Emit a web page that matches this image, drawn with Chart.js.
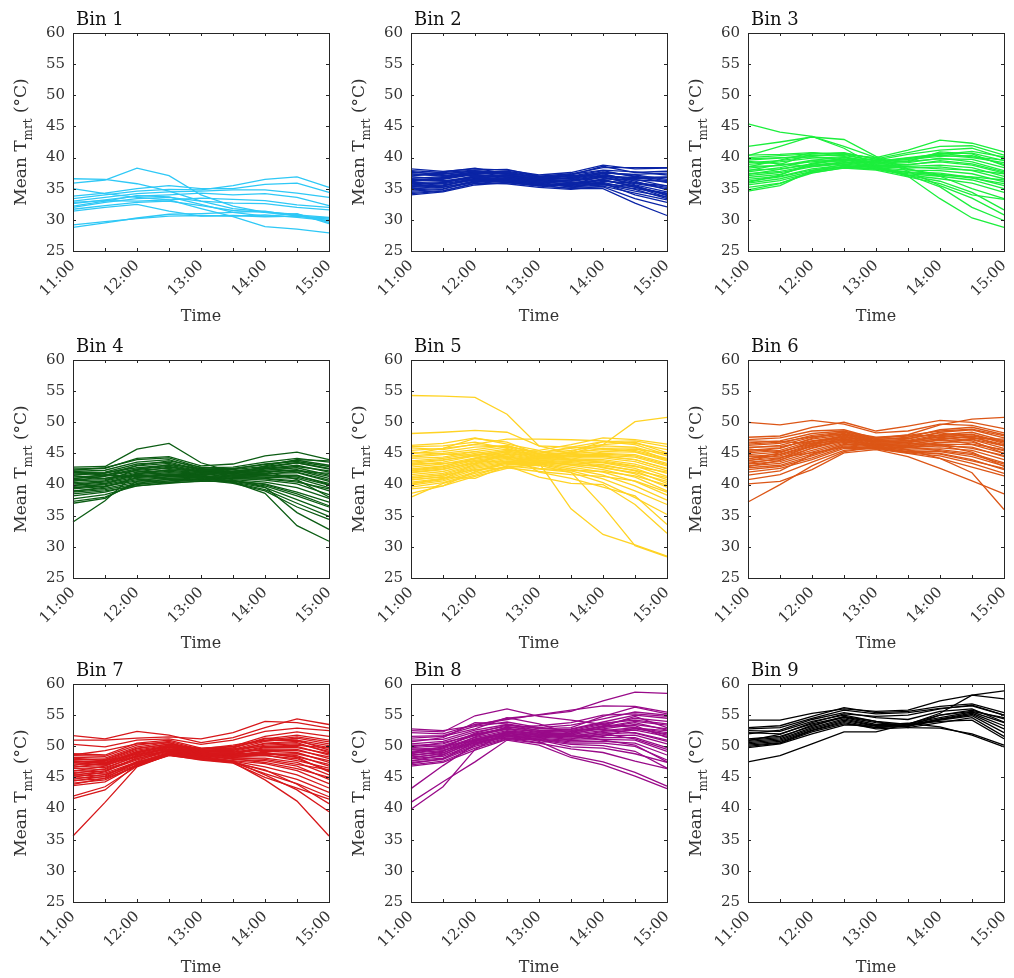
<!DOCTYPE html>
<html>
<head>
<meta charset="utf-8">
<title>Mean Tmrt by bin</title>
<script src="https://cdn.jsdelivr.net/npm/chart.js@4.4.1/dist/chart.umd.min.js"></script>
<style>
  body { margin: 0; background: #fff; }
  #wrap { position: relative; width: 1014px; height: 978px; overflow: hidden; }
  .panel { position: absolute; width: 338px; height: 326px; }
</style>
</head>
<body>
<div id="wrap"></div>
<script>
// time axis (every 30 min, labels only on the hour)
const timeLabels = ['11:00', '11:30', '12:00', '12:30', '13:00', '13:30', '14:00', '14:30', '15:00'];
const yTicks = [25, 30, 35, 40, 45, 50, 55, 60];
const binTitles = ['Bin 1', 'Bin 2', 'Bin 3', 'Bin 4', 'Bin 5', 'Bin 6', 'Bin 7', 'Bin 8', 'Bin 9'];
const binColors = ['#2ec8f6', '#0a24a6', '#1cee3c', '#0b5c13', '#ffd324', '#dc5616', '#d7171a', '#990a89', '#000000'];

// mean Tmrt per site, one row per line
const bin1 = [
  [36.6, 36.5, 35.8, 34.6, 33.0, 31.8, 31.3, 30.8, 30.4],
  [35.9, 36.4, 38.3, 37.1, 34.0, 32.2, 31.2, 30.7, 29.8],
  [35.0, 34.2, 33.6, 33.2, 31.8, 30.5, 28.9, 28.5, 27.9],
  [33.4, 34.0, 34.6, 34.9, 34.8, 35.5, 36.5, 36.9, 35.2],
  [33.8, 34.3, 35.0, 35.5, 35.0, 35.0, 35.7, 35.9, 34.4],
  [33.0, 33.6, 34.2, 34.5, 34.6, 34.8, 34.8, 34.3, 33.6],
  [32.6, 33.2, 33.8, 34.0, 34.3, 34.0, 34.2, 33.6, 32.3],
  [32.0, 32.8, 33.4, 33.6, 33.0, 32.7, 32.6, 32.0, 31.6],
  [31.7, 32.3, 32.8, 33.0, 32.3, 31.5, 31.2, 30.9, 29.6],
  [31.4, 32.0, 32.5, 31.4, 30.6, 30.7, 30.5, 30.6, 30.1],
  [32.2, 33.0, 33.9, 33.7, 32.5, 31.2, 30.6, 31.0, 29.4],
  [29.2, 29.7, 30.2, 30.6, 30.7, 30.6, 30.8, 30.4, 29.9],
  [28.8, 29.5, 30.3, 30.9, 31.0, 31.2, 31.4, 30.6, 30.3],
  [32.8, 33.1, 33.0, 33.2, 33.5, 33.3, 33.1, 32.4, 32.0]
];
const bin2 = [
  [38.2, 37.8, 38.2, 38.0, 37.2, 37.6, 38.8, 38.2, 38.3],
  [37.9, 37.6, 38.0, 38.1, 37.0, 37.4, 38.4, 38.4, 38.4],
  [37.6, 37.4, 37.8, 37.6, 36.8, 37.3, 38.0, 37.7, 37.2],
  [37.4, 37.0, 37.6, 37.8, 37.0, 36.9, 37.6, 37.2, 36.5],
  [37.2, 37.3, 37.9, 37.3, 36.6, 37.0, 37.9, 36.9, 36.0],
  [36.9, 36.6, 37.4, 37.5, 36.8, 36.5, 37.2, 36.5, 35.4],
  [36.7, 36.9, 37.2, 37.0, 36.4, 36.7, 37.4, 36.2, 34.8],
  [36.5, 36.2, 37.0, 37.2, 36.6, 36.2, 36.8, 35.8, 35.0],
  [36.3, 36.5, 37.3, 36.8, 36.2, 36.4, 36.9, 35.6, 34.5],
  [36.0, 36.1, 36.8, 37.0, 36.5, 36.0, 36.3, 35.5, 33.9],
  [35.8, 35.8, 36.6, 36.6, 36.0, 35.8, 36.0, 34.9, 33.4],
  [35.6, 36.0, 36.9, 36.9, 36.3, 35.6, 35.7, 34.6, 33.7],
  [35.4, 35.6, 36.4, 36.4, 35.8, 35.4, 35.9, 34.0, 32.8],
  [35.2, 35.4, 36.7, 36.7, 36.1, 35.2, 35.3, 33.4, 32.1],
  [35.0, 35.2, 36.2, 36.2, 35.6, 35.0, 35.0, 32.7, 30.7],
  [34.8, 35.0, 36.0, 36.5, 35.9, 35.3, 35.6, 35.0, 34.2],
  [34.6, 34.9, 36.3, 36.0, 35.4, 35.1, 36.2, 35.9, 35.5],
  [34.4, 34.7, 35.8, 36.3, 35.7, 35.5, 36.6, 36.4, 36.2],
  [34.2, 34.6, 35.9, 35.8, 35.2, 34.9, 35.4, 34.3, 33.2],
  [34.0, 34.5, 35.6, 36.0, 35.5, 35.6, 36.4, 35.4, 34.0],
  [37.0, 37.7, 38.3, 37.4, 36.9, 37.1, 37.0, 36.6, 36.8],
  [36.1, 36.8, 37.6, 37.7, 36.7, 36.6, 37.5, 37.3, 37.5],
  [35.3, 35.9, 37.1, 36.3, 35.9, 36.3, 37.1, 36.0, 35.2],
  [36.6, 36.3, 36.5, 36.1, 35.5, 35.9, 36.5, 35.2, 34.3],
  [35.5, 35.3, 36.1, 37.1, 36.4, 36.8, 37.7, 37.0, 36.3],
  [37.8, 37.1, 37.7, 36.9, 36.3, 36.0, 35.8, 35.3, 33.6],
  [34.9, 35.5, 36.5, 36.4, 35.6, 35.7, 37.0, 36.8, 36.9],
  [36.4, 36.7, 37.5, 37.3, 36.5, 37.2, 38.6, 37.6, 37.8]
];
const bin3 = [
  [45.4, 44.1, 43.4, 41.8, 40.0, 37.8, 35.5, 33.5, 30.8],
  [41.8, 42.5, 43.3, 42.9, 40.2, 38.2, 37.0, 35.0, 33.4],
  [40.3, 41.8, 43.4, 41.5, 38.6, 37.2, 35.3, 32.0, 29.9],
  [40.4, 40.5, 40.8, 40.5, 40.0, 41.2, 42.8, 42.3, 40.9],
  [40.0, 40.3, 40.6, 40.7, 39.8, 40.8, 41.8, 41.9, 40.4],
  [39.6, 39.9, 40.4, 40.3, 39.6, 40.5, 41.2, 41.5, 39.9],
  [39.2, 39.5, 40.2, 40.5, 39.4, 40.0, 40.6, 40.7, 39.5],
  [38.9, 39.3, 39.9, 40.1, 39.2, 39.7, 40.2, 40.3, 38.9],
  [38.6, 38.7, 39.6, 40.0, 39.0, 39.4, 39.8, 39.7, 38.4],
  [38.3, 38.8, 39.3, 39.8, 38.9, 39.2, 39.9, 39.3, 37.9],
  [38.0, 38.2, 39.0, 39.6, 38.8, 38.9, 39.3, 38.8, 37.5],
  [37.7, 38.4, 39.5, 39.4, 38.6, 38.6, 38.8, 38.4, 37.0],
  [37.4, 37.8, 38.7, 39.2, 38.5, 38.3, 38.5, 37.9, 36.6],
  [37.1, 37.6, 38.5, 39.0, 38.4, 38.0, 37.9, 37.4, 36.1],
  [36.8, 37.3, 38.8, 39.3, 38.7, 38.8, 39.5, 39.0, 37.7],
  [36.5, 37.0, 38.2, 38.8, 38.3, 37.7, 37.5, 36.8, 35.5],
  [36.2, 36.9, 38.0, 38.6, 38.2, 37.4, 37.0, 36.4, 35.0],
  [35.9, 36.6, 37.8, 38.5, 38.1, 37.2, 36.6, 35.9, 34.4],
  [35.6, 36.3, 37.6, 38.3, 38.0, 36.9, 35.8, 34.0, 33.3],
  [35.2, 35.9, 37.5, 38.4, 38.2, 37.6, 37.2, 36.9, 36.4],
  [34.8, 35.8, 37.7, 38.6, 38.5, 38.5, 38.2, 38.0, 37.4],
  [34.6, 35.5, 37.9, 38.9, 38.6, 37.0, 33.4, 30.3, 28.8],
  [39.8, 40.0, 40.1, 39.6, 39.1, 39.5, 40.5, 41.0, 40.1],
  [37.9, 38.9, 40.6, 40.8, 39.7, 39.3, 40.9, 40.6, 38.7],
  [36.0, 37.2, 39.1, 39.7, 39.3, 39.9, 40.4, 40.0, 39.2],
  [39.4, 39.0, 38.6, 39.1, 39.3, 38.1, 37.3, 36.7, 35.8],
  [38.5, 39.6, 40.8, 40.2, 38.5, 37.1, 36.2, 34.4, 31.6],
  [37.3, 38.1, 38.9, 40.0, 39.5, 39.8, 40.7, 40.1, 39.6]
];
const bin4 = [
  [42.8, 42.9, 45.7, 46.6, 43.5, 42.0, 42.7, 43.5, 42.5],
  [42.5, 42.6, 44.2, 44.5, 43.0, 43.3, 44.6, 45.2, 44.0],
  [42.3, 42.7, 44.0, 44.3, 42.7, 42.8, 43.6, 44.2, 43.6],
  [42.1, 42.3, 43.6, 44.0, 42.5, 42.6, 43.2, 43.9, 43.1],
  [41.9, 42.0, 43.3, 43.6, 42.4, 42.4, 42.9, 43.5, 42.6],
  [41.7, 41.8, 43.0, 43.4, 42.3, 42.2, 42.6, 43.1, 42.0],
  [41.5, 41.9, 42.7, 43.1, 42.2, 42.0, 42.3, 42.7, 41.5],
  [41.2, 41.5, 42.5, 42.9, 42.1, 41.9, 42.0, 42.3, 41.0],
  [41.0, 41.3, 42.3, 42.6, 42.0, 41.7, 41.8, 41.9, 40.5],
  [40.8, 41.0, 42.0, 42.3, 41.9, 41.5, 41.5, 41.5, 40.0],
  [40.6, 40.8, 41.8, 42.1, 41.8, 41.3, 41.2, 41.0, 39.5],
  [40.3, 40.6, 41.6, 41.9, 41.7, 41.2, 41.0, 40.6, 39.0],
  [40.1, 40.4, 41.4, 41.7, 41.5, 41.0, 40.7, 40.1, 38.4],
  [39.9, 40.2, 41.2, 41.4, 41.4, 40.8, 40.4, 39.5, 37.8],
  [39.7, 40.0, 41.0, 41.2, 41.3, 40.6, 40.1, 38.8, 37.2],
  [39.5, 39.8, 40.8, 41.0, 41.2, 40.5, 39.8, 38.2, 36.4],
  [39.3, 39.7, 40.6, 40.8, 41.1, 40.4, 39.5, 37.6, 35.6],
  [39.0, 39.4, 40.4, 40.6, 41.0, 40.3, 39.2, 37.0, 34.9],
  [38.8, 39.2, 40.1, 40.4, 40.8, 40.2, 39.0, 36.4, 34.4],
  [38.5, 39.0, 39.8, 40.2, 40.6, 40.4, 38.6, 33.4, 30.9],
  [38.2, 38.8, 40.0, 40.6, 40.8, 40.7, 39.6, 35.5, 32.8],
  [37.7, 38.4, 39.8, 40.3, 40.5, 40.6, 40.0, 38.5, 36.6],
  [37.3, 38.0, 40.2, 40.9, 40.7, 41.1, 41.4, 41.2, 39.9],
  [37.0, 37.8, 40.5, 41.3, 41.0, 41.4, 42.1, 42.4, 41.3],
  [34.0, 37.4, 42.0, 42.8, 42.0, 41.8, 42.5, 42.9, 42.2],
  [41.4, 41.0, 41.5, 40.9, 40.7, 41.6, 43.0, 44.0, 43.8],
  [40.5, 41.4, 43.1, 43.8, 42.8, 42.5, 43.3, 43.7, 42.9],
  [39.4, 40.1, 41.7, 42.4, 42.2, 41.7, 41.6, 42.2, 41.8],
  [38.9, 39.6, 41.1, 41.6, 41.6, 42.1, 42.7, 42.0, 40.7],
  [40.9, 41.6, 42.2, 41.3, 41.2, 40.9, 40.9, 40.4, 39.3],
  [42.0, 41.5, 41.3, 41.5, 41.4, 41.0, 41.1, 41.4, 40.2],
  [39.8, 40.6, 42.4, 43.2, 42.6, 41.9, 42.1, 40.8, 38.0]
];
const bin5 = [
  [54.3, 54.2, 54.0, 51.3, 46.2, 45.0, 44.6, 44.0, 42.5],
  [48.2, 48.4, 48.7, 48.4, 46.2, 46.0, 45.8, 45.3, 44.0],
  [46.3, 46.6, 47.5, 46.5, 45.5, 46.4, 47.5, 47.2, 46.5],
  [45.9, 45.6, 46.5, 47.3, 47.3, 47.2, 47.0, 46.6, 45.6],
  [45.5, 45.8, 46.4, 46.1, 45.2, 45.8, 46.4, 46.8, 45.1],
  [45.0, 45.3, 46.0, 46.2, 45.0, 45.5, 46.2, 46.0, 44.6],
  [44.6, 45.0, 45.6, 46.3, 44.8, 45.2, 45.6, 45.5, 44.2],
  [44.2, 44.4, 45.3, 46.0, 44.6, 45.0, 45.3, 45.2, 43.8],
  [43.8, 44.2, 45.0, 45.7, 44.5, 44.8, 45.0, 44.8, 43.4],
  [43.4, 43.9, 44.8, 45.4, 44.4, 44.6, 44.7, 44.4, 43.0],
  [43.1, 43.6, 44.6, 45.2, 44.3, 44.5, 44.5, 44.0, 42.6],
  [42.8, 43.3, 44.3, 45.0, 44.2, 44.3, 44.3, 43.7, 42.2],
  [42.5, 43.0, 44.1, 44.8, 44.1, 44.1, 44.0, 43.3, 41.8],
  [42.2, 42.7, 43.9, 44.6, 44.0, 43.9, 43.8, 43.0, 41.3],
  [41.9, 42.4, 43.7, 44.4, 43.9, 43.7, 43.5, 42.6, 40.8],
  [41.6, 42.1, 43.4, 44.2, 43.8, 43.5, 43.2, 42.2, 40.2],
  [41.3, 41.8, 43.2, 44.0, 43.7, 43.3, 42.8, 41.7, 39.6],
  [41.0, 41.6, 43.0, 43.8, 43.6, 43.1, 42.4, 41.2, 39.0],
  [40.7, 41.3, 42.8, 43.6, 43.5, 42.8, 42.0, 40.5, 38.3],
  [40.4, 41.0, 42.6, 43.4, 43.4, 42.5, 41.5, 39.8, 37.5],
  [40.1, 40.8, 42.3, 43.2, 43.3, 42.2, 40.9, 39.0, 36.8],
  [39.6, 40.3, 41.8, 42.9, 43.1, 41.9, 40.3, 37.9, 35.2],
  [39.3, 39.8, 41.3, 42.6, 43.5, 36.1, 32.0, 30.3, 28.5],
  [38.0, 40.2, 41.5, 43.0, 42.5, 42.0, 36.5, 30.2, 28.4],
  [40.8, 41.2, 41.0, 43.0, 41.2, 40.2, 40.0, 36.8, 32.2],
  [42.0, 42.5, 43.5, 45.0, 42.0, 41.0, 39.6, 38.2, 33.6],
  [43.6, 44.0, 44.6, 44.2, 43.0, 45.0, 46.4, 50.1, 50.8],
  [44.9, 45.8, 47.4, 46.8, 44.8, 44.0, 45.3, 45.7, 45.0],
  [46.1, 46.2, 46.8, 45.8, 44.4, 45.3, 46.9, 47.0, 46.1],
  [42.3, 42.9, 44.2, 45.3, 45.0, 46.0, 46.9, 46.4, 44.8],
  [41.1, 41.5, 42.4, 42.7, 42.1, 41.6, 41.3, 40.6, 38.8],
  [43.3, 43.4, 43.8, 43.6, 42.6, 42.3, 42.1, 41.4, 39.9],
  [39.9, 40.6, 42.0, 43.5, 44.6, 45.1, 45.8, 45.9, 44.0],
  [44.4, 44.8, 45.3, 44.5, 43.6, 43.2, 43.0, 42.3, 41.1],
  [40.2, 40.9, 43.3, 44.9, 44.9, 44.6, 44.9, 44.6, 43.2],
  [45.2, 44.9, 44.7, 45.5, 45.4, 44.0, 42.7, 41.9, 40.5],
  [38.6, 39.8, 42.1, 43.7, 44.2, 44.0, 43.6, 42.9, 42.0]
];
const bin6 = [
  [50.0, 49.6, 50.3, 49.7, 48.3, 48.6, 49.7, 49.5, 48.3],
  [47.6, 47.8, 49.2, 50.0, 48.6, 49.4, 50.3, 50.0, 49.0],
  [47.2, 47.5, 48.6, 48.8, 47.4, 48.0, 49.6, 50.5, 50.8],
  [46.7, 47.0, 48.2, 48.6, 47.2, 47.6, 48.8, 49.2, 48.0],
  [46.3, 46.6, 47.9, 48.4, 47.0, 47.3, 48.4, 48.8, 47.5],
  [45.9, 46.3, 47.6, 48.2, 46.9, 47.1, 48.0, 48.4, 47.0],
  [45.5, 45.9, 47.3, 48.0, 46.8, 46.9, 47.7, 48.0, 46.6],
  [45.1, 45.5, 47.0, 47.8, 46.7, 46.7, 47.4, 47.6, 46.2],
  [44.8, 45.2, 46.7, 47.6, 46.6, 46.5, 47.1, 47.2, 45.8],
  [44.5, 44.9, 46.4, 47.4, 46.5, 46.3, 46.8, 46.8, 45.4],
  [44.2, 44.6, 46.1, 47.2, 46.4, 46.1, 46.5, 46.4, 45.0],
  [43.9, 44.3, 45.8, 47.0, 46.3, 45.9, 46.2, 46.0, 44.5],
  [43.6, 44.0, 45.5, 46.8, 46.2, 45.7, 45.9, 45.5, 44.0],
  [43.3, 43.7, 45.2, 46.6, 46.1, 45.5, 45.6, 45.0, 43.5],
  [43.0, 43.4, 44.9, 46.4, 46.0, 45.3, 45.3, 44.5, 43.0],
  [42.7, 43.1, 44.6, 46.2, 45.9, 45.2, 45.0, 44.0, 42.4],
  [42.4, 42.9, 44.3, 46.0, 45.8, 45.1, 44.6, 43.4, 41.8],
  [42.0, 42.6, 44.0, 45.8, 45.7, 45.0, 44.2, 42.8, 41.4],
  [40.8, 41.6, 43.6, 45.5, 45.9, 45.3, 44.9, 43.8, 42.6],
  [40.1, 40.5, 42.4, 45.1, 45.6, 44.5, 42.6, 40.6, 38.5],
  [37.2, 40.0, 43.0, 45.3, 46.0, 45.6, 44.2, 41.9, 36.0],
  [41.5, 42.2, 44.8, 46.4, 46.5, 46.2, 46.7, 47.3, 46.2],
  [46.0, 46.1, 47.0, 47.3, 46.3, 46.4, 47.2, 47.8, 46.9],
  [45.3, 45.8, 47.4, 48.5, 47.6, 47.9, 48.6, 48.9, 47.8],
  [44.1, 45.1, 46.9, 47.7, 46.9, 47.0, 47.6, 47.0, 45.0],
  [43.4, 44.2, 46.3, 47.5, 47.1, 46.6, 46.4, 45.8, 44.7],
  [47.0, 46.9, 46.6, 47.1, 46.4, 46.0, 45.4, 44.8, 43.3],
  [42.9, 43.9, 45.9, 47.3, 46.8, 46.8, 47.3, 46.5, 45.6],
  [45.7, 45.3, 46.5, 47.9, 47.3, 47.4, 48.3, 47.6, 46.4],
  [44.6, 44.4, 45.1, 46.0, 45.8, 46.0, 46.3, 45.2, 42.9],
  [46.5, 46.8, 47.7, 48.1, 47.5, 47.8, 47.9, 47.4, 47.3],
  [43.8, 44.8, 46.2, 46.9, 46.1, 46.8, 47.9, 48.1, 46.8]
];
const bin7 = [
  [51.7, 51.2, 52.4, 51.8, 50.6, 51.4, 53.0, 54.4, 53.5],
  [51.0, 51.0, 51.3, 51.5, 51.2, 52.2, 54.0, 53.8, 52.9],
  [50.3, 49.9, 51.0, 51.2, 50.3, 51.0, 52.4, 52.9, 52.5],
  [48.8, 48.6, 50.5, 51.0, 49.7, 50.0, 51.6, 52.3, 51.6],
  [48.5, 48.4, 50.2, 50.8, 49.5, 49.7, 51.2, 51.8, 51.0],
  [48.2, 48.1, 49.9, 50.6, 49.4, 49.5, 50.8, 51.3, 50.4],
  [47.9, 47.8, 49.6, 50.4, 49.3, 49.3, 50.5, 50.8, 49.8],
  [47.6, 47.6, 49.4, 50.2, 49.2, 49.2, 50.2, 50.4, 49.2],
  [47.3, 47.4, 49.1, 50.0, 49.1, 49.0, 49.9, 50.0, 48.6],
  [47.0, 47.1, 48.8, 49.8, 49.0, 48.8, 49.6, 49.5, 48.0],
  [46.7, 46.9, 48.6, 49.6, 48.9, 48.6, 49.2, 49.0, 47.4],
  [46.4, 46.6, 48.3, 49.4, 48.8, 48.5, 48.9, 48.5, 46.8],
  [46.1, 46.3, 48.0, 49.3, 48.7, 48.3, 48.5, 48.0, 46.1],
  [45.8, 46.0, 47.8, 49.1, 48.6, 48.1, 48.1, 47.4, 45.4],
  [45.5, 45.7, 47.5, 48.9, 48.5, 47.9, 47.7, 46.8, 44.7],
  [45.2, 45.4, 47.2, 48.8, 48.3, 47.7, 47.2, 46.1, 44.0],
  [44.9, 45.1, 47.0, 48.7, 48.2, 47.6, 46.7, 45.4, 43.3],
  [44.5, 44.8, 46.8, 48.6, 48.0, 47.5, 46.1, 44.7, 42.6],
  [44.1, 44.6, 46.9, 48.5, 47.9, 47.4, 45.6, 44.0, 41.9],
  [43.7, 44.3, 47.0, 48.6, 47.8, 47.3, 45.0, 43.3, 41.5],
  [42.0, 43.5, 46.8, 48.7, 48.1, 47.4, 46.2, 43.9, 40.8],
  [41.6, 43.0, 47.1, 48.9, 48.4, 47.6, 45.4, 43.0, 39.5],
  [35.6, 41.0, 46.7, 48.6, 48.2, 47.4, 44.6, 41.2, 35.6],
  [48.6, 49.3, 50.4, 50.6, 49.0, 49.8, 51.3, 51.0, 49.4],
  [46.9, 47.9, 49.7, 50.3, 49.6, 50.2, 51.0, 51.5, 50.7],
  [46.0, 46.8, 48.9, 50.1, 49.7, 49.6, 50.0, 50.2, 49.7],
  [45.0, 45.9, 48.2, 49.9, 49.6, 49.9, 50.9, 51.0, 50.1],
  [44.4, 45.2, 47.6, 49.5, 49.4, 48.9, 48.7, 48.8, 47.7],
  [47.4, 47.0, 48.4, 49.2, 48.6, 48.4, 48.6, 47.7, 46.5],
  [45.6, 46.4, 48.5, 49.8, 49.1, 49.1, 49.4, 49.3, 48.3],
  [48.1, 47.7, 48.7, 49.5, 48.8, 48.7, 49.0, 48.2, 45.9],
  [43.9, 44.9, 47.4, 49.0, 48.5, 48.0, 47.4, 46.4, 45.0],
  [46.6, 47.3, 49.2, 50.1, 49.3, 49.4, 50.4, 50.6, 49.0],
  [45.3, 46.1, 48.0, 49.3, 49.0, 48.2, 47.9, 47.1, 46.2],
  [47.7, 47.2, 49.0, 49.9, 48.9, 48.8, 49.8, 49.8, 48.8],
  [44.7, 45.5, 47.3, 48.9, 48.4, 48.5, 48.8, 48.3, 47.1]
];
const bin8 = [
  [52.8, 52.5, 53.3, 54.5, 55.0, 55.6, 57.3, 58.7, 58.5],
  [52.5, 52.3, 54.9, 56.0, 54.8, 54.2, 53.5, 53.0, 51.8],
  [52.2, 52.0, 53.5, 54.3, 55.1, 55.8, 56.5, 56.4, 55.5],
  [51.6, 51.7, 53.2, 53.9, 53.0, 53.4, 54.4, 55.5, 55.0],
  [51.0, 51.1, 52.6, 53.5, 52.5, 52.8, 53.9, 55.0, 54.5],
  [50.4, 50.8, 52.3, 53.2, 52.3, 52.5, 53.5, 54.5, 54.0],
  [50.1, 50.4, 52.0, 52.9, 52.2, 52.3, 53.1, 54.0, 53.4],
  [49.8, 50.1, 51.7, 52.7, 52.0, 52.1, 52.8, 53.5, 52.8],
  [49.5, 49.8, 51.4, 52.5, 51.9, 51.9, 52.5, 53.0, 52.2],
  [49.2, 49.6, 51.2, 52.3, 51.8, 51.7, 52.2, 52.6, 51.6],
  [48.9, 49.3, 51.0, 52.1, 51.7, 51.5, 52.0, 52.2, 51.0],
  [48.6, 49.0, 50.8, 52.0, 51.6, 51.3, 51.7, 51.8, 50.4],
  [48.3, 48.7, 50.6, 51.8, 51.5, 51.1, 51.4, 51.4, 49.8],
  [48.0, 48.4, 50.4, 51.6, 51.3, 50.9, 51.1, 51.0, 49.2],
  [47.7, 48.1, 50.2, 51.5, 51.2, 50.7, 50.8, 50.5, 48.6],
  [47.4, 47.9, 50.0, 51.3, 51.1, 50.5, 50.5, 50.0, 47.8],
  [47.0, 47.6, 49.7, 51.2, 51.0, 50.3, 50.1, 49.2, 46.5],
  [46.8, 47.4, 49.4, 51.1, 50.5, 49.6, 49.0, 47.6, 46.4],
  [43.2, 46.9, 50.3, 51.9, 50.8, 48.5, 47.5, 45.8, 43.6],
  [41.0, 44.3, 47.5, 51.0, 50.2, 48.2, 47.0, 45.2, 43.2],
  [39.9, 43.5, 49.5, 52.3, 51.8, 51.5, 52.4, 52.8, 52.0],
  [51.3, 51.6, 52.8, 54.6, 53.6, 52.0, 51.0, 50.2, 47.5],
  [50.7, 51.4, 53.8, 53.6, 52.8, 53.0, 54.8, 56.3, 55.2],
  [49.9, 50.6, 51.8, 53.0, 53.3, 53.8, 55.0, 55.2, 54.8],
  [49.0, 49.9, 51.9, 52.8, 52.4, 52.7, 53.7, 54.2, 53.6],
  [48.5, 49.2, 51.5, 53.1, 52.6, 52.4, 53.2, 54.8, 53.0],
  [47.2, 48.0, 50.7, 52.4, 52.1, 51.6, 51.6, 52.9, 52.5],
  [48.1, 48.9, 51.1, 52.2, 51.4, 52.0, 53.0, 53.8, 52.6],
  [50.2, 50.0, 50.9, 51.9, 51.0, 49.9, 49.7, 48.8, 47.4],
  [49.6, 49.4, 50.5, 51.7, 51.5, 52.2, 53.3, 53.3, 51.4],
  [47.6, 48.6, 50.9, 51.3, 50.6, 51.2, 52.0, 51.2, 49.5],
  [48.8, 49.7, 52.1, 53.4, 52.9, 52.6, 52.7, 52.1, 50.8]
];
const bin9 = [
  [54.2, 54.2, 55.3, 56.0, 55.6, 55.8, 57.3, 58.2, 57.6],
  [53.0, 53.3, 54.8, 56.2, 55.4, 55.6, 56.4, 56.8, 55.4],
  [52.8, 53.0, 54.5, 55.8, 55.2, 55.4, 56.1, 56.5, 55.0],
  [52.5, 52.4, 54.0, 55.0, 54.0, 53.5, 55.3, 58.2, 58.9],
  [52.2, 52.0, 53.6, 54.7, 53.8, 53.2, 55.0, 55.8, 54.4],
  [51.0, 51.4, 53.4, 54.6, 53.5, 53.6, 54.6, 55.5, 53.8],
  [50.8, 51.2, 53.0, 54.4, 53.3, 53.4, 54.4, 55.3, 53.3],
  [50.6, 51.0, 52.8, 54.2, 53.2, 53.3, 54.3, 55.1, 52.8],
  [50.4, 50.8, 52.6, 54.0, 53.0, 53.2, 54.2, 54.9, 52.2],
  [50.2, 50.6, 52.5, 53.8, 52.8, 53.0, 53.8, 54.6, 51.6],
  [50.0, 50.5, 52.3, 53.6, 53.0, 53.5, 54.0, 54.2, 51.2],
  [49.8, 50.4, 52.0, 53.4, 53.4, 53.7, 53.1, 51.8, 49.9],
  [47.5, 48.5, 50.4, 52.3, 52.3, 53.6, 55.0, 55.6, 54.6],
  [51.2, 51.6, 53.2, 54.8, 54.0, 53.0, 52.9, 52.0, 50.2],
  [52.0, 52.6, 54.3, 55.4, 54.6, 54.3, 55.6, 56.0, 53.9],
  [50.9, 51.9, 53.8, 55.2, 54.8, 55.0, 56.0, 56.6, 55.0]
];

const bins = [bin1, bin2, bin3, bin4, bin5, bin6, bin7, bin8, bin9];

const fontFamily = "'DejaVu Serif', serif";
const textColor = '#333333';

// box, inward ticks, panel title and y label with subscript (MATLAB look)
const framePlugin = {
    id: 'frame',
    afterDatasetsDraw(chart, args, opts) {
        const ctx = chart.ctx;
        const a = chart.chartArea;
        const xs = chart.scales.x;
        const ys = chart.scales.y;
        ctx.save();
        ctx.strokeStyle = '#262626';
        ctx.lineWidth = 1;
        ctx.beginPath();
        // tick marks pointing into the box
        for (let i = 0; i < timeLabels.length; i++) {
            const px = Math.round(xs.getPixelForValue(i)) + 0.5;
            ctx.moveTo(px, a.bottom); ctx.lineTo(px, a.bottom - 3);
            ctx.moveTo(px, a.top); ctx.lineTo(px, a.top + 3);
        }
        yTicks.forEach(v => {
            const py = Math.round(ys.getPixelForValue(v)) + 0.5;
            ctx.moveTo(a.left, py); ctx.lineTo(a.left + 3, py);
            ctx.moveTo(a.right, py); ctx.lineTo(a.right - 3, py);
        });
        ctx.stroke();
        ctx.strokeRect(Math.round(a.left) + 0.5, Math.round(a.top) + 0.5,
            Math.round(a.right - a.left), Math.round(a.bottom - a.top));

        // title
        ctx.fillStyle = '#111111';
        ctx.font = '18px ' + fontFamily;
        ctx.textAlign = 'left';
        ctx.textBaseline = 'alphabetic';
        ctx.fillText(opts.title, a.left + 3, a.top - 8);

        // y axis label: Mean T_mrt (°C)
        const big = '17px ' + fontFamily;
        const small = '12px ' + fontFamily;
        ctx.font = big;
        const w1 = ctx.measureText('Mean T').width;
        const w3 = ctx.measureText(' (°C)').width;
        ctx.font = small;
        const w2 = ctx.measureText('mrt').width;
        const total = w1 + w2 + w3;
        ctx.translate(a.left - 51, (a.top + a.bottom) / 2);
        ctx.rotate(-Math.PI / 2);
        ctx.fillStyle = textColor;
        ctx.textBaseline = 'middle';
        let x0 = -total / 2;
        ctx.font = big;
        ctx.fillText('Mean T', x0, 0);
        ctx.font = small;
        ctx.fillText('mrt', x0 + w1, 7);
        ctx.font = big;
        ctx.fillText(' (°C)', x0 + w1 + w2, 0);
        ctx.restore();
    }
};

const wrap = document.getElementById('wrap');
const colLeft = [0, 338, 675];
const rowTop = [0, 327, 651];

bins.forEach((lines, b) => {
    const div = document.createElement('div');
    div.className = 'panel';
    div.style.left = colLeft[b % 3] + 'px';
    div.style.top = rowTop[Math.floor(b / 3)] + 'px';
    const canvas = document.createElement('canvas');
    canvas.width = 338;
    canvas.height = 326;
    div.appendChild(canvas);
    wrap.appendChild(div);

    new Chart(canvas.getContext('2d'), {
        type: 'line',
        data: {
            labels: timeLabels,
            datasets: lines.map(v => ({
                data: v,
                borderColor: binColors[b],
                borderWidth: 1.3,
                pointRadius: 0,
                fill: false,
                tension: 0
            }))
        },
        options: {
            responsive: false,
            animation: false,
            layout: { padding: { top: 33, right: 9, left: 0, bottom: 0 } },
            plugins: {
                legend: { display: false },
                tooltip: { enabled: false },
                frame: { title: binTitles[b] }
            },
            scales: {
                x: {
                    type: 'category',
                    offset: false,
                    grid: { display: false, drawTicks: false },
                    border: { display: false },
                    ticks: {
                        autoSkip: false,
                        minRotation: 45,
                        maxRotation: 45,
                        padding: 6,
                        color: textColor,
                        font: { family: fontFamily, size: 15 },
                        callback: (val, i) => (i % 2 === 0 ? timeLabels[i] : '')
                    },
                    title: {
                        display: true,
                        text: 'Time',
                        color: textColor,
                        font: { family: fontFamily, size: 16 },
                        padding: { top: 0, bottom: 0 }
                    },
                    afterFit: s => {
                        s.height = 75;
                        s.paddingLeft = 0;
                        s.paddingRight = 0;
                    }
                },
                y: {
                    min: 25,
                    max: 60,
                    grid: { display: false, drawTicks: false },
                    border: { display: false },
                    ticks: {
                        stepSize: 5,
                        padding: 8,
                        color: textColor,
                        font: { family: fontFamily, size: 15 }
                    },
                    afterFit: s => { s.width = 73; }
                }
            }
        },
        plugins: [framePlugin]
    });
});
</script>
</body>
</html>
